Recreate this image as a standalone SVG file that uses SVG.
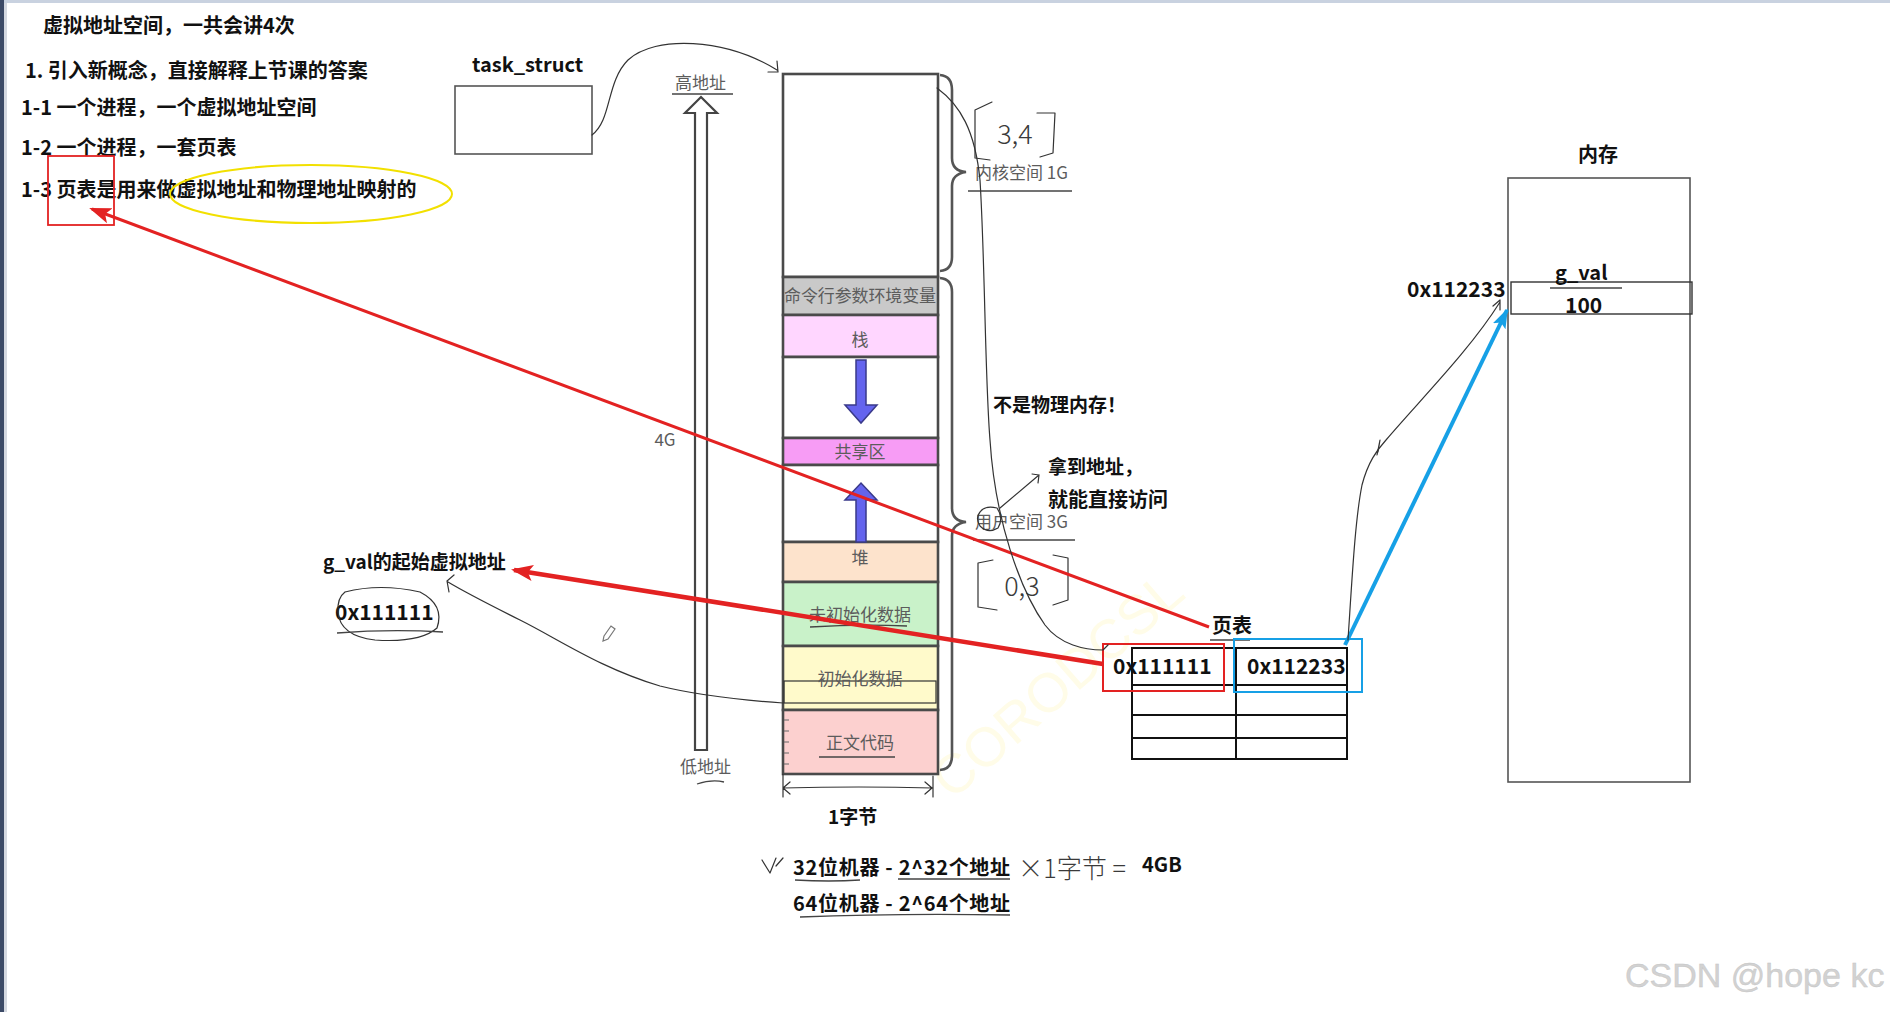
<svg xmlns="http://www.w3.org/2000/svg" width="1890" height="1012" viewBox="0 0 1890 1012">
<style>
.t{font-family:"Noto Sans CJK SC","Noto Sans",sans-serif;font-weight:bold;fill:#111;}
.g{font-family:"Noto Sans CJK SC","Noto Sans",sans-serif;font-weight:normal;fill:#5c5c5c;font-size:17px;}
.h{fill:none;stroke:#333;stroke-width:1.2;stroke-linecap:round;stroke-linejoin:round;}
.hw{font-family:"Noto Sans CJK SC","Noto Sans",sans-serif;font-weight:300;fill:#3a3a3a;}
.seg{stroke:#4a4a4a;stroke-width:2.6;}
.box{fill:#fff;stroke:#555;stroke-width:1.6;}
.brace{fill:none;stroke:#555;stroke-width:2.6;}
.ul{stroke:#444;stroke-width:1.3;fill:none;}
.tbl{stroke:#111;stroke-width:2;fill:none;}
</style>
<defs>
<marker id="ar" markerUnits="userSpaceOnUse" markerWidth="22" markerHeight="18" refX="19" refY="9" orient="auto"><path d="M0,1 L22,9 L0,17 L5,9 Z" fill="#e32222"/></marker>
<marker id="ab" markerUnits="userSpaceOnUse" markerWidth="20" markerHeight="16" refX="18" refY="8" orient="auto"><path d="M0,1 L20,8 L0,15 L4,8 Z" fill="#16a0e6"/></marker>
</defs>
<rect width="1890" height="1012" fill="#fff"/>
<rect x="0" y="0" width="1890" height="3" fill="#c9d2e0"/>
<rect x="0" y="0" width="4" height="1012" fill="#3c4a66"/>
<rect x="4" y="3" width="3" height="1009" fill="#d4d8e0"/>

<text x="952" y="801" transform="rotate(-41 952 801)" font-family="Liberation Sans,sans-serif" font-size="55" fill="#fffce8">CORODCSL</text>

<g id="notes">
<text class="t" x="43" y="33" font-size="20">虚拟地址空间，一共会讲4次</text>
<text class="t" x="25" y="78" font-size="20">1. 引入新概念，直接解释上节课的答案</text>
<text class="t" x="21" y="115" font-size="20">1-1 一个进程，一个虚拟地址空间</text>
<text class="t" x="21" y="155" font-size="20">1-2 一个进程，一套页表</text>
<text class="t" x="21" y="197" font-size="20">1-3 页表是用来做虚拟地址和物理地址映射的</text>
<rect x="48" y="156" width="66" height="69" fill="none" stroke="#e32222" stroke-width="1.8"/>
<ellipse cx="311" cy="194" rx="141" ry="29" fill="none" stroke="#f2e000" stroke-width="2"/>
</g>

<g id="task_struct">
<text class="t" x="472" y="72" font-size="20">task_struct</text>
<rect class="box" x="455" y="86" width="137" height="68"/>
</g>

<g id="address-arrow">
<path d="M695,750 L695,113 L685,113 L701,97 L717,113 L707,113 L707,750 Z" fill="#fff" stroke="#444" stroke-width="2.2"/>
<text class="g" x="675" y="89">高地址</text>
<line class="ul" x1="672" y1="94" x2="733" y2="94"/>
<text class="g" x="680" y="773">低地址</text>
<path class="ul" d="M697,784 Q712,779 724,782"/>
<text class="g" x="665" y="446" text-anchor="middle">4G</text>
</g>

<g id="vm-column">
<rect class="seg" x="783" y="74" width="155" height="203" fill="#fff"/>
<rect class="seg" x="783" y="277" width="155" height="38" fill="#c9c9c9"/>
<rect class="seg" x="783" y="315" width="155" height="42" fill="#ffd6ff"/>
<rect class="seg" x="783" y="357" width="155" height="81" fill="#fff"/>
<rect class="seg" x="783" y="438" width="155" height="27" fill="#f79cf5"/>
<rect class="seg" x="783" y="465" width="155" height="77" fill="#fff"/>
<rect class="seg" x="783" y="542" width="155" height="40" fill="#fde3cc"/>
<rect class="seg" x="783" y="582" width="155" height="64" fill="#c9f2c9"/>
<rect class="seg" x="783" y="646" width="155" height="64" fill="#fffacb"/>
<rect class="seg" x="783" y="710" width="155" height="64" fill="#fcd0cf"/>
<rect x="784" y="681" width="152" height="22" fill="none" stroke="#333" stroke-width="1.2"/>
<path d="M856,360 L866,360 L866,405 L877,405 L861,423 L845,405 L856,405 Z" fill="#6464ee" stroke="#3a3a8a" stroke-width="1.5"/>
<path d="M856,542 L866,542 L866,500 L877,500 L861,483 L845,500 L856,500 Z" fill="#6464ee" stroke="#3a3a8a" stroke-width="1.5"/>
<text class="g" x="860" y="302" text-anchor="middle" textLength="152">命令行参数环境变量</text>
<text class="g" x="860" y="346" text-anchor="middle">栈</text>
<text class="g" x="860" y="458" text-anchor="middle">共享区</text>
<text class="g" x="860" y="564" text-anchor="middle">堆</text>
<text class="g" x="860" y="621" text-anchor="middle">未初始化数据</text>
<path class="ul" d="M810,627 Q860,624 907,626"/>
<text class="g" x="860" y="685" text-anchor="middle">初始化数据</text>
<text class="g" x="860" y="749" text-anchor="middle">正文代码</text>
<path class="ul" d="M819,757 L895,757"/>
<path d="M784,720 h5 M784,731 h5 M784,742 h5 M784,753 h5 M784,764 h5" stroke="#666" stroke-width="1"/>
<path class="brace" d="M940,75 Q952,76 952,90 L952,158 Q952,171 966,172 Q952,174 952,186 L952,257 Q952,270 940,271"/>
<path class="brace" d="M940,278 Q952,279 952,292 L952,508 Q952,521 966,522 Q952,524 952,536 L952,756 Q952,769 940,770"/>
<text class="g" x="975" y="179">内核空间 1G</text>
<line class="ul" x1="968" y1="191" x2="1072" y2="191"/>
<text class="g" x="975" y="528">用户空间 3G</text>
<line class="ul" x1="973" y1="540" x2="1075" y2="540"/>
<path class="h" d="M992,102 L975,110 L975,158 L990,160 M1037,113 L1055,113 L1053,153 L1040,157"/>
<text class="hw" x="1015" y="144" font-size="27" text-anchor="middle">3,4</text>
<path class="h" d="M993,560 L978,563 L978,607 L997,610 M1053,555 L1068,558 L1068,600 L1053,605"/>
<text class="hw" x="1022" y="596" font-size="27" text-anchor="middle">0,3</text>
<path class="h" d="M980,512 Q985,505 997,508 Q1004,518 998,528 Q988,534 980,526 Q975,518 980,512"/>
<path class="h" d="M783,774 L783,797 M933,776 L933,797 M790,782 L783,788 L790,794 M925,782 L932,788 L925,794 M783,788 Q860,786 932,788"/>
<text class="t" x="828" y="824" font-size="19">1字节</text>
</g>

<g id="notes-right">
<text class="t" x="993" y="412" font-size="19">不是物理内存！</text>
<text class="t" x="1048" y="474" font-size="19">拿到地址，</text>
<text class="t" x="1048" y="507" font-size="20">就能直接访问</text>
</g>

<g id="bits">
<path class="h" d="M762,860 L770,873 L776,858 M776,866 L783,858"/>
<text class="t" x="793" y="875" font-size="20" textLength="217">32位机器 - 2^32个地址</text>
<path class="ul" d="M795,880 Q830,882 860,880 M898,879 L1010,879"/>
<text class="t" x="793" y="911" font-size="20" textLength="217">64位机器 - 2^64个地址</text>
<path class="ul" d="M800,917 Q900,913 1010,915"/>
<text class="hw" x="1018" y="878" font-size="26" textLength="108" lengthAdjust="spacingAndGlyphs">×1字节 =</text>
<text class="t" x="1142" y="872" font-size="20">4GB</text>
</g>

<g id="g_val-virtual">
<text class="t" x="323" y="569" font-size="19">g_val的起始虚拟地址</text>
<text class="t" x="335" y="620" font-size="21">0x111111</text>
<path class="h" d="M345,592 Q380,583 420,592 Q445,605 437,628 Q420,643 375,640 Q340,636 338,612 Q337,598 345,592"/>
<path class="ul" d="M337,633 Q390,629 443,632"/>
<path d="M604,636 L611,626 L615,629 L608,639 L603,641 Z" fill="#fff" stroke="#777" stroke-width="1.2"/>
</g>

<g id="page-table">
<text class="t" x="1212" y="633" font-size="20">页表</text>
<line class="ul" x1="1210" y1="640" x2="1250" y2="640"/>
<rect class="tbl" x="1132" y="648" width="215" height="111"/>
<path class="tbl" d="M1236,648 V759 M1132,685 H1347 M1132,715 H1347 M1132,738 H1347" stroke-width="1.6"/>
<text class="t" x="1113" y="674" font-size="21">0x111111</text>
<text class="t" x="1247" y="674" font-size="21">0x112233</text>
<rect x="1103" y="644" width="121" height="47" fill="none" stroke="#e32222" stroke-width="2"/>
<rect x="1234" y="639" width="128" height="53" fill="none" stroke="#16a0e6" stroke-width="2"/>
</g>

<g id="memory">
<text class="t" x="1578" y="162" font-size="20">内存</text>
<rect class="box" x="1508" y="178" width="182" height="604"/>
<rect x="1511" y="282" width="181" height="32" fill="none" stroke="#333" stroke-width="1.4"/>
<text class="t" x="1555" y="280" font-size="20">g_val</text>
<line class="ul" x1="1550" y1="288" x2="1622" y2="288" stroke="#777"/>
<text class="t" x="1565" y="313" font-size="21">100</text>
<text class="t" x="1407" y="297" font-size="21">0x112233</text>
</g>

<g id="connectors">
<line x1="1209" y1="627" x2="92" y2="209" stroke="#e32222" stroke-width="3" marker-end="url(#ar)"/>
<line x1="1103" y1="664" x2="514" y2="570" stroke="#e32222" stroke-width="4.5" marker-end="url(#ar)"/>
<line x1="1345" y1="645" x2="1507" y2="310" stroke="#16a0e6" stroke-width="4" marker-end="url(#ab)"/>
<path class="h" d="M592,135 C612,120 606,82 628,60 C655,35 725,38 777,70 M777,61 L778,72 L768,72"/>
<path class="h" d="M783,703 C740,700 700,696 660,686 C600,668 560,640 520,620 C490,605 468,594 448,582 M454,575 L447,581 L449,592"/>
<path class="h" d="M1348,640 C1352,580 1355,520 1362,485 C1368,462 1377,450 1386,440 C1420,400 1470,350 1500,302 M1493,306 L1500,300 L1500,310"/>
<path class="h" d="M1377,455 L1380,440 L1378,452"/>
<path class="h" d="M937,88 C960,105 975,130 980,180 C985,260 985,380 990,440 C995,520 1020,590 1045,625 C1060,645 1085,650 1103,650 L1108,645"/>
<path class="h" d="M1000,508 L1039,475 M1032,474 L1039,475 L1038,483"/>
</g>

<text x="1625" y="987" font-family="Liberation Sans,sans-serif" font-size="34" fill="#d2d2d2" stroke="#c4c4c4" stroke-width="0.4">CSDN @hope kc</text>
</svg>
